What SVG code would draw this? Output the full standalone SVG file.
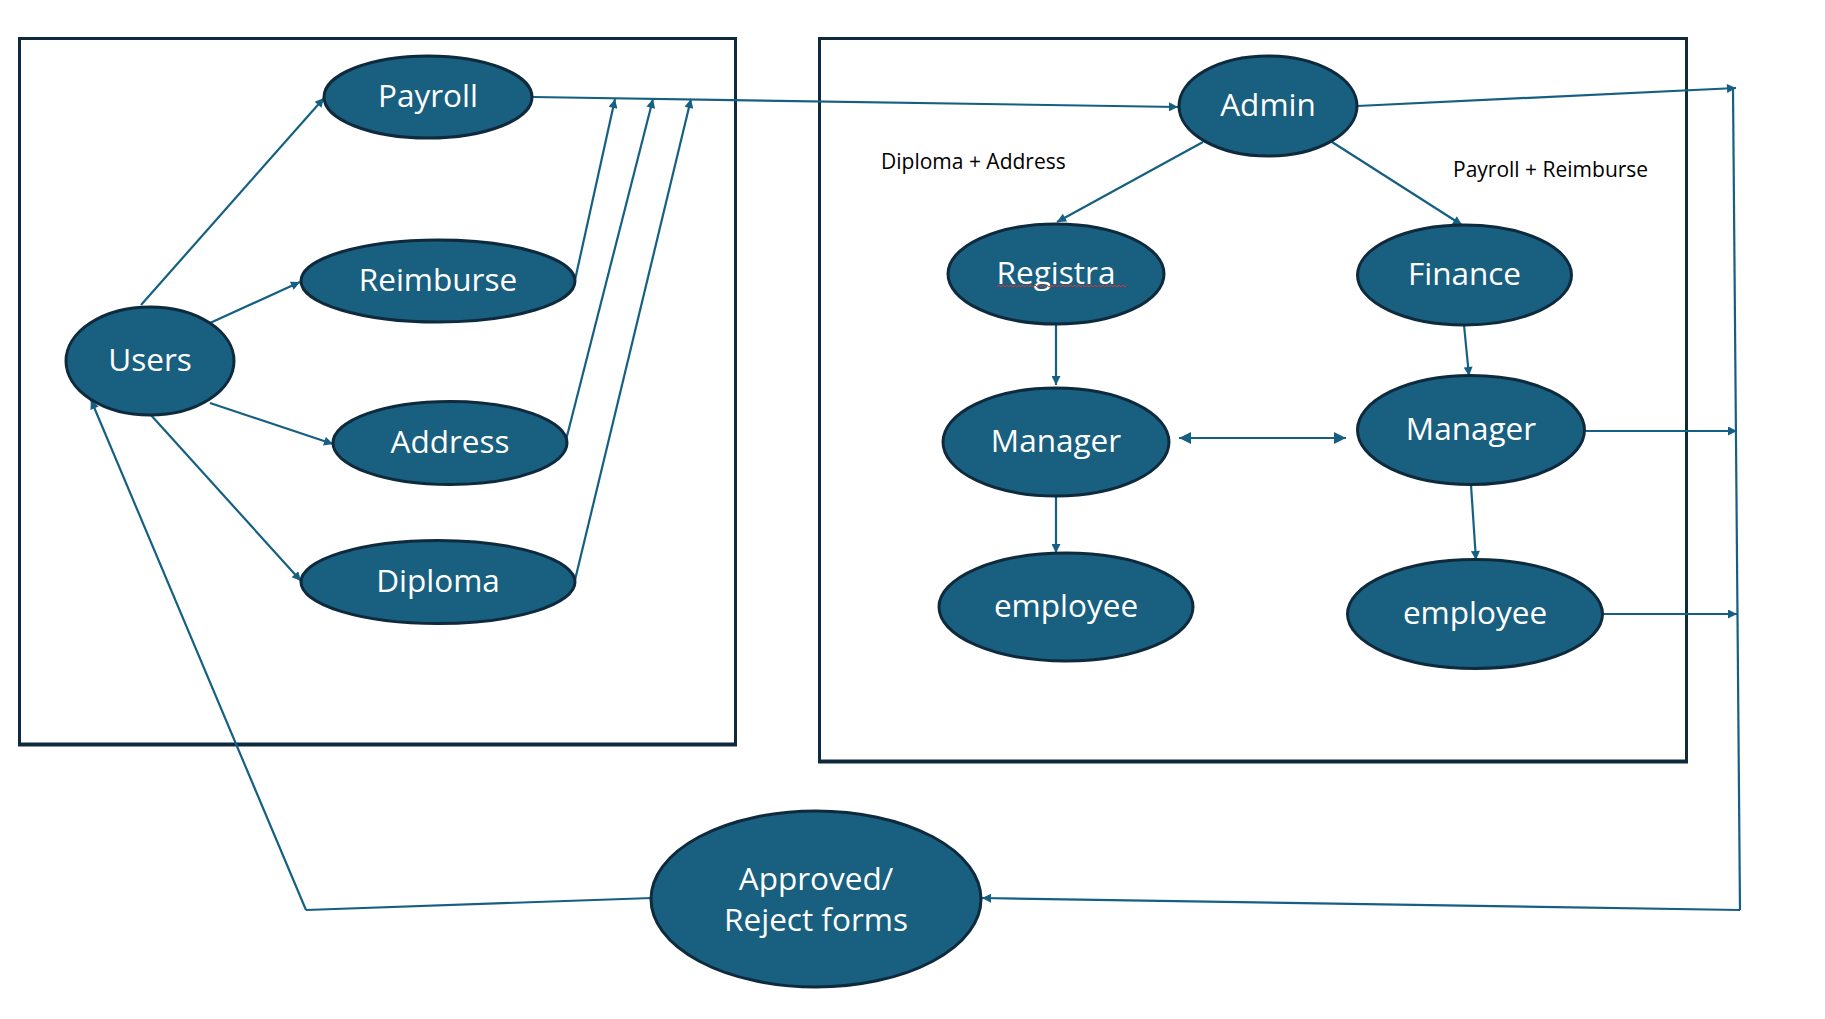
<svg xmlns="http://www.w3.org/2000/svg" width="1825" height="1019" viewBox="0 0 1825 1019">
<style>
.node{fill:#185F80;stroke:#0E2A3C;stroke-width:3}
.lbl{font-family:"Open Sans","Liberation Sans",sans-serif;font-size:31.5px;fill:#ffffff;text-anchor:middle}
.note{font-family:"Open Sans","Liberation Sans",sans-serif;font-size:21px;fill:#000000}
.box{fill:none;stroke:#0E2A3C;stroke-width:3}
.c{fill:none;stroke:#156082;stroke-width:2.2}
</style>
<defs>
<marker id="ah" viewBox="0 0 10 10" refX="10" refY="5" markerWidth="11" markerHeight="9" markerUnits="userSpaceOnUse" orient="auto-start-reverse">
<path d="M0,0 L10,5 L0,10 z" fill="#156082"/>
</marker>
<marker id="ahb" viewBox="0 0 10 10" refX="10" refY="5" markerWidth="13" markerHeight="12" markerUnits="userSpaceOnUse" orient="auto-start-reverse">
<path d="M0,0 L10,5 L0,10 z" fill="#156082"/>
</marker>
</defs>
<rect id="userBox" class="box" x="19.5" y="38.5" width="716" height="706"/>
<line x1="18" y1="744.5" x2="737" y2="744.5" stroke="#0E2A3C" stroke-width="4"/>
<rect id="adminBox" class="box" x="819.5" y="38.5" width="867" height="723"/>
<line x1="818" y1="761.5" x2="1688" y2="761.5" stroke="#0E2A3C" stroke-width="4"/>
<g id="connectors">
<line class="c" x1="141" y1="305" x2="324" y2="98" marker-end="url(#ah)"/>
<line class="c" x1="210" y1="323" x2="300" y2="282" marker-end="url(#ah)"/>
<line class="c" x1="210" y1="403" x2="333" y2="444" marker-end="url(#ah)"/>
<line class="c" x1="150" y1="414" x2="301" y2="581" marker-end="url(#ah)"/>
<line class="c" x1="575" y1="280" x2="615" y2="99" marker-end="url(#ah)"/>
<line class="c" x1="566" y1="440" x2="653" y2="99" marker-end="url(#ah)"/>
<line class="c" x1="575" y1="580" x2="691" y2="99" marker-end="url(#ah)"/>
<line class="c" x1="533" y1="97" x2="1178" y2="107" marker-end="url(#ah)"/>
<line class="c" x1="1357" y1="106" x2="1736" y2="88" marker-end="url(#ah)"/>
<line class="c" x1="1733" y1="88" x2="1740" y2="910"/>
<line class="c" x1="1584" y1="431" x2="1737" y2="431" marker-end="url(#ah)"/>
<line class="c" x1="1603" y1="614" x2="1737" y2="614" marker-end="url(#ah)"/>
<line class="c" x1="1740" y1="910" x2="982" y2="898" marker-end="url(#ah)" stroke-width="2.6"/>
<line class="c" x1="652" y1="898" x2="306" y2="910" stroke-width="2.6"/>
<line class="c" x1="306" y1="910" x2="91" y2="400" marker-end="url(#ah)"/>
<line class="c" x1="1203" y1="142" x2="1057" y2="222" marker-end="url(#ah)"/>
<line class="c" x1="1332" y1="142" x2="1462" y2="225" marker-end="url(#ah)"/>
<line class="c" x1="1056" y1="324" x2="1056" y2="385" marker-end="url(#ah)"/>
<line class="c" x1="1464" y1="325" x2="1469" y2="376" marker-end="url(#ah)"/>
<line class="c" x1="1179" y1="438" x2="1346" y2="438" marker-start="url(#ahb)" marker-end="url(#ahb)" stroke-width="3.2"/>
<line class="c" x1="1056" y1="496" x2="1056" y2="553" marker-end="url(#ah)"/>
<line class="c" x1="1471" y1="485" x2="1476" y2="560" marker-end="url(#ah)"/>
</g>
<g id="payroll"><ellipse class="node" cx="428" cy="97" rx="104" ry="41"/><text class="lbl" x="428" y="107">Payroll</text></g>
<g id="reimburse"><ellipse class="node" cx="438" cy="281" rx="137" ry="41"/><text class="lbl" x="438" y="291">Reimburse</text></g>
<g id="users"><ellipse class="node" cx="150" cy="361" rx="84" ry="54"/><text class="lbl" x="150" y="371">Users</text></g>
<g id="address"><ellipse class="node" cx="450" cy="443" rx="117" ry="41.5"/><text class="lbl" x="450" y="453">Address</text></g>
<g id="diploma"><ellipse class="node" cx="438" cy="582" rx="137" ry="41.5"/><text class="lbl" x="438" y="592">Diploma</text></g>
<g id="admin"><ellipse class="node" cx="1268" cy="106" rx="89" ry="50"/><text class="lbl" x="1268" y="116">Admin</text></g>
<g id="registra"><ellipse class="node" cx="1056" cy="274" rx="108" ry="50"/><text class="lbl" x="1056" y="284">Registra</text>
<path d="M997,287 l2,-2 l2,2 l2,-2 l2,2 l2,-2 l2,2 l2,-2 l2,2 l2,-2 l2,2 l2,-2 l2,2 l2,-2 l2,2 l2,-2 l2,2 l2,-2 l2,2 l2,-2 l2,2 l2,-2 l2,2 l2,-2 l2,2 l2,-2 l2,2 l2,-2 l2,2 l2,-2 l2,2 l2,-2 l2,2 l2,-2 l2,2 l2,-2 l2,2 l2,-2 l2,2 l2,-2 l2,2 l2,-2 l2,2 l2,-2 l2,2 l2,-2 l2,2 l2,-2 l2,2 l2,-2 l2,2 l2,-2 l2,2 l2,-2 l2,2 l2,-2 l2,2 l2,-2 l2,2 l2,-2 l2,2 l2,-2 l2,2 l2,-2 l2,2 l2,-2" fill="none" stroke="#E03030" stroke-width="1"/></g>
<g id="finance"><ellipse class="node" cx="1464.5" cy="275" rx="107" ry="50"/><text class="lbl" x="1464.5" y="285">Finance</text></g>
<g id="managerL"><ellipse class="node" cx="1056" cy="442" rx="113" ry="54"/><text class="lbl" x="1056" y="452">Manager</text></g>
<g id="managerR"><ellipse class="node" cx="1471" cy="430" rx="113.5" ry="54.5"/><text class="lbl" x="1471" y="440">Manager</text></g>
<g id="employeeL"><ellipse class="node" cx="1066" cy="607" rx="127" ry="54"/><text class="lbl" x="1066" y="617">employee</text></g>
<g id="employeeR"><ellipse class="node" cx="1475" cy="614" rx="127.5" ry="54.5"/><text class="lbl" x="1475" y="624">employee</text></g>
<g id="approved"><ellipse class="node" cx="816" cy="899" rx="165" ry="88"/><text class="lbl" x="816" y="890">Approved/</text><text class="lbl" x="816" y="931">Reject forms</text></g>
<text class="note" x="881" y="169">Diploma + Address</text>
<text class="note" x="1453" y="177">Payroll + Reimburse</text>
</svg>
